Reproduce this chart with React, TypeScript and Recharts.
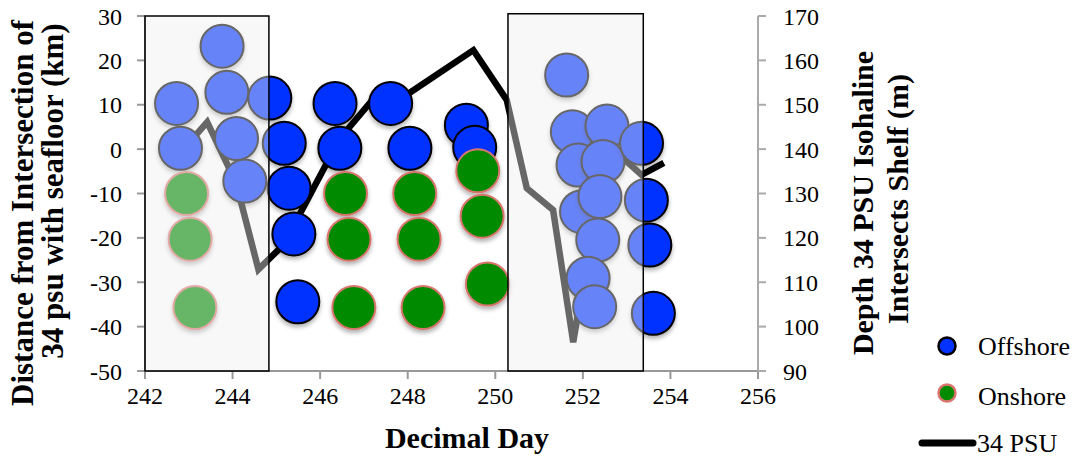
import React from 'react';
import { ComposedChart, Scatter, Line, XAxis, YAxis, ReferenceArea } from 'recharts';

const FONT = 'Liberation Serif';

const xTicks = [242, 244, 246, 248, 250, 252, 254, 256];
const distTicks = [-50, -40, -30, -20, -10, 0, 10, 20, 30];
const depthTicks = [90, 100, 110, 120, 130, 140, 150, 160, 170];

// offshore positions (decimal day, km)
const offshoreDay = [
  243.76, 242.72, 243.87, 242.81, 244.09, 244.28,
  244.85, 245.18, 245.29, 245.4, 245.49, 246.34, 246.45, 247.61, 248.05, 249.34, 249.53,
  251.63, 251.76, 252.55, 251.89, 252.46, 251.97, 252.39, 252.34, 252.12, 252.27,
  253.34, 253.45, 253.53, 253.61,
];
const offshoreDist = [
  23.2, 10.3, 12.8, 0.2, 2.4, -7.2,
  11.5, 1.3, -8.8, -19.1, -34.4, 10.3, 0.2, 10.3, 0.2, 5.4, 0.4,
  16.7, 3.9, 5.2, -3.6, -2.8, -14.1, -10.7, -20.5, -29.1, -35.5,
  1.3, -11.5, -21.6, -37.0,
];

// onshore positions
const onshoreDay = [242.95, 243.03, 243.14, 246.58, 246.66, 246.77, 248.16, 248.26, 248.35, 249.6, 249.7, 249.82];
const onshoreDist = [-10.0, -20.3, -35.7, -10.0, -20.3, -35.7, -10.0, -20.3, -35.7, -4.9, -15.1, -30.4];

// depth where 34 psu isohaline meets the shelf (m)
const psuDay = [242.8, 243.42, 244.08, 244.59, 245.16, 246.45, 247.29, 247.97, 249.5, 250.26, 250.72, 251.32, 251.78, 252.54, 253.34, 253.85];
const psuDepth = [139.1, 146.1, 132.4, 112.9, 118.4, 142.4, 152.2, 152.2, 162.3, 151.1, 131.2, 126.3, 96.5, 141.3, 134.2, 136.9];

// shaded periods
const boxStart = [242, 250.29];
const boxEnd = [244.83, 253.38];
const boxTop = [30, 30.5];

const offshore = offshoreDay.map((day, i) => ({ day, dist: offshoreDist[i] }));
const onshore = onshoreDay.map((day, i) => ({ day, dist: onshoreDist[i] }));
const psu = psuDay.map((day, i) => ({ day, depth: psuDepth[i] }));

const BLUE = '#0433ff';
const GREEN = '#008a00';
const PINK = '#d9756e';

const bubble = (fill: string, stroke: string) => (props: any) => (
  <circle
    cx={props.cx}
    cy={props.cy}
    r={21.5}
    fill={fill}
    stroke={stroke}
    strokeWidth={2}
    filter="url(#bubbleShadow)"
  />
);

const tickStyle = { fill: '#000', fontSize: 24, fontFamily: FONT, fontWeight: 400 };

export default function App() {
  return (
    <div style={{ position: 'absolute', left: 0, top: 0, width: 1076, height: 457, background: '#fff' }}>
      <svg width={0} height={0} style={{ position: 'absolute' }}>
        <defs>
          <filter id="bubbleShadow" x="-30%" y="-30%" width="160%" height="170%">
            <feDropShadow dx={0} dy={3} stdDeviation={2} floodColor="#000" floodOpacity={0.3} />
          </filter>
        </defs>
      </svg>
      <ComposedChart width={1076} height={457} margin={{ top: 16, right: 0, bottom: 0, left: 0 }}>
        <XAxis
          type="number"
          dataKey="day"
          domain={[242, 256]}
          ticks={xTicks}
          allowDataOverflow
          stroke="#999"
          strokeWidth={2}
          tickSize={8}
          tickMargin={8}
          height={86}
          tick={tickStyle}
        />
        <YAxis
          yAxisId="left"
          type="number"
          domain={[-50, 30]}
          ticks={distTicks}
          allowDataOverflow
          stroke="#999"
          strokeWidth={2}
          tickSize={8}
          tickMargin={15}
          width={145}
          tick={tickStyle}
        />
        <YAxis
          yAxisId="right"
          orientation="right"
          type="number"
          domain={[90, 170]}
          ticks={depthTicks}
          allowDataOverflow
          stroke="#aaa"
          strokeWidth={2}
          tickSize={8}
          tickMargin={17}
          width={318}
          tick={{ ...tickStyle, textAnchor: 'start' }}
        />
        <Scatter yAxisId="left" data={offshore} dataKey="dist" shape={bubble(BLUE, '#000')} isAnimationActive={false} />
        <Scatter yAxisId="left" data={onshore} dataKey="dist" shape={bubble(GREEN, PINK)} isAnimationActive={false} />
        <Line
          yAxisId="right"
          data={psu}
          dataKey="depth"
          type="linear"
          stroke="#000"
          strokeWidth={6.5}
          dot={false}
          activeDot={false}
          isAnimationActive={false}
        />
        {boxStart.map((x1, i) => (
          <ReferenceArea
            key={i}
            yAxisId="left"
            x1={x1}
            x2={boxEnd[i]}
            y1={-50}
            y2={boxTop[i]}
            ifOverflow="visible"
            fill="#eeeeee"
            fillOpacity={0.43}
            stroke="#000"
            strokeWidth={1.5}
            zIndex={1500}
          />
        ))}
      </ComposedChart>
      <svg
        width={1076}
        height={457}
        style={{ position: 'absolute', left: 0, top: 0, pointerEvents: 'none' }}
        fontFamily={FONT}
      >
        <g fontWeight="bold" textAnchor="middle" dominantBaseline="central">
          <text fontSize={31} x={22} y={213} transform="rotate(-90 22 213)">Distance from Intersection of</text>
          <text fontSize={31} x={52} y={191} transform="rotate(-90 52 191)">34 psu with seafloor (km)</text>
          <text fontSize={30} x={862} y={203} transform="rotate(-90 862 203)">Depth 34 PSU Isohaline</text>
          <text fontSize={30} x={897} y={199} transform="rotate(-90 897 199)">Intersects Shelf (m)</text>
          <text fontSize={30} x={467} y={437}>Decimal Day</text>
        </g>
        <g fontSize={26} fontWeight={400}>
          <circle cx={947} cy={346} r={8.5} fill={BLUE} stroke="#000" strokeWidth={2.5} />
          <text x={978} y={355}>Offshore</text>
          <circle cx={947} cy={393} r={8.5} fill={GREEN} stroke={PINK} strokeWidth={2.5} />
          <text x={978} y={405}>Onshore</text>
          <line x1={922} x2={973} y1={443} y2={443} stroke="#000" strokeWidth={7} strokeLinecap="round" />
          <text x={977} y={452}>34 PSU</text>
        </g>
      </svg>
    </div>
  );
}
